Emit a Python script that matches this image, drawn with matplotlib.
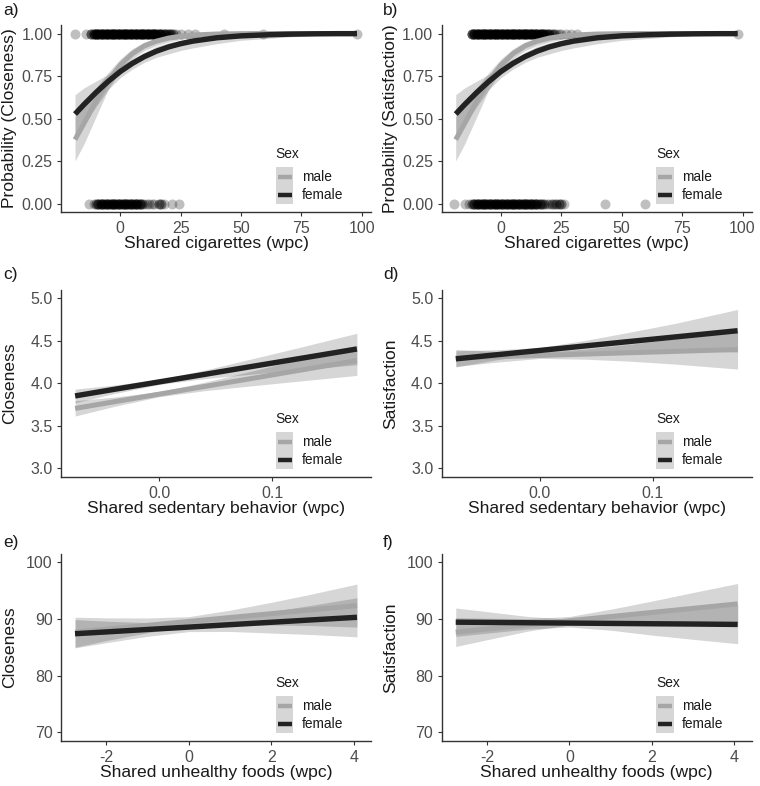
import numpy as np
import matplotlib
matplotlib.use("Agg")
import matplotlib.pyplot as plt
from matplotlib.patches import Rectangle

plt.rcParams['font.family'] = ['Liberation Sans', 'DejaVu Sans']
plt.rcParams['axes.unicode_minus'] = False

# ---- panel a/b: logistic fits (shared cigarettes) ----
cig_x = [-18.7, -15, -10, -5, 0, 5, 10, 15, 20, 25, 30, 40, 50, 60, 70, 80, 90, 98]
cig_f_fit = [0.526, 0.582, 0.653, 0.718, 0.776, 0.824, 0.864, 0.896, 0.921, 0.940,
             0.955, 0.975, 0.986, 0.992, 0.996, 0.998, 0.999, 0.999]
cig_f_lo = [0.40, 0.47, 0.57, 0.67, 0.74, 0.79, 0.83, 0.86, 0.88, 0.90,
            0.915, 0.94, 0.96, 0.97, 0.98, 0.987, 0.992, 0.995]
cig_f_hi = [0.64, 0.68, 0.72, 0.76, 0.81, 0.85, 0.89, 0.925, 0.945, 0.96,
            0.972, 0.987, 0.994, 0.997, 0.999, 1.0, 1.0, 1.0]
cig_m_fit = [0.376, 0.471, 0.602, 0.720, 0.814, 0.881, 0.927, 0.955, 0.973, 0.984,
             0.991, 0.997, 0.999, 1.0, 1.0, 1.0, 1.0, 1.0]
cig_m_lo = [0.25, 0.35, 0.51, 0.67, 0.78, 0.85, 0.90, 0.93, 0.95, 0.965,
            0.975, 0.99, 0.995, 0.998, 0.999, 1.0, 1.0, 1.0]
cig_m_hi = [0.51, 0.59, 0.68, 0.77, 0.85, 0.91, 0.95, 0.975, 0.987, 0.993,
            0.997, 0.999, 1.0, 1.0, 1.0, 1.0, 1.0, 1.0]

# observed outcomes (x value, number of dyad-days at that value)
a_one_x = [-18.7, -14, -12, -11, -10, -9, -8, -7, -6, -5, -4, -3, -2, -1, 0, 1, 2, 3, 4, 5,
           6, 7, 8, 9, 10, 11, 12, 13, 14, 15, 16, 17, 18, 19, 20, 21, 22, 23, 25, 28, 31, 43, 59, 98]
a_one_n = [1, 1, 3, 4, 5, 5, 5, 5, 5, 5, 5, 5, 5, 5, 5, 5, 5, 5, 5, 5,
           5, 5, 5, 5, 5, 5, 5, 5, 5, 4, 4, 4, 3, 3, 3, 2, 2, 1, 1, 1, 1, 1, 1, 1]
a_zero_x = [-12.9, -11, -10, -9, -8, -7, -6, -5, -4, -3, -2, -1, 0, 1, 2, 3, 4, 5, 6, 7, 8,
            9, 10, 11, 12, 13, 14, 16, 17, 18, 21.6, 24.5]
a_zero_n = [1, 1, 2, 4, 4, 4, 4, 4, 4, 4, 4, 4, 4, 4, 4, 4, 4, 4, 4, 4, 4,
            2, 1, 1, 1, 1, 1, 2, 2, 1, 1, 1]
b_one_x = [-12, -11, -10, -9, -8, -7, -6, -5, -4, -3, -2, -1, 0, 1, 2, 3, 4, 5, 6, 7, 8, 9,
           10, 11, 12, 13, 14, 15, 16, 17, 18, 19, 20, 21, 22, 23, 24, 25, 27, 29, 31.5, 98]
b_one_n = [4, 5, 5, 5, 5, 5, 5, 5, 5, 5, 5, 5, 5, 5, 5, 5, 5, 5, 5, 5, 5, 5,
           5, 5, 5, 5, 5, 4, 4, 4, 4, 3, 3, 2, 2, 1, 1, 1, 1, 1, 1, 1]
b_zero_x = [-19.4, -15, -13, -12, -11, -10, -9, -8, -7, -6, -5, -4, -3, -2, -1, 0, 1, 2, 3, 4,
            5, 6, 7, 8, 9, 10, 11, 12, 13, 14, 15, 16, 17, 18, 19, 20, 21, 22, 23, 24, 25, 26,
            43, 59.5]
b_zero_n = [1, 1, 1, 2, 4, 4, 4, 4, 4, 4, 4, 4, 4, 4, 4, 4, 4, 4, 4, 4,
            4, 4, 4, 4, 4, 4, 4, 4, 4, 4, 3, 3, 2, 2, 1, 1, 2, 1, 2, 2, 2, 1,
            1, 1]

# ---- panel c/d: sedentary behavior ----
sed_x = [-0.0745, -0.04, 0.0, 0.04, 0.08, 0.12, 0.175]
c_f_fit = [3.854, 3.931, 4.019, 4.107, 4.196, 4.284, 4.406]
c_f_lo = [3.774, 3.881, 3.989, 4.057, 4.108, 4.157, 4.221]
c_f_hi = [3.934, 3.981, 4.049, 4.157, 4.284, 4.411, 4.591]
c_m_fit = [3.707, 3.785, 3.875, 3.965, 4.055, 4.146, 4.270]
c_m_lo = [3.617, 3.730, 3.845, 3.915, 3.970, 4.023, 4.095]
c_m_hi = [3.797, 3.840, 3.905, 4.015, 4.140, 4.269, 4.445]
d_f_fit = [4.290, 4.336, 4.389, 4.442, 4.495, 4.548, 4.621]
d_f_lo = [4.195, 4.276, 4.354, 4.377, 4.385, 4.388, 4.371]
d_f_hi = [4.385, 4.396, 4.424, 4.507, 4.605, 4.708, 4.871]
d_m_fit = [4.300, 4.314, 4.330, 4.346, 4.362, 4.378, 4.400]
d_m_lo = [4.200, 4.249, 4.295, 4.286, 4.262, 4.228, 4.170]
d_m_hi = [4.400, 4.379, 4.365, 4.406, 4.462, 4.528, 4.630]

# ---- panel e/f: unhealthy foods ----
food_x = [-2.76, -2, -1, 0, 1, 2, 3, 4.08]
e_f_fit = [87.43, 87.75, 88.18, 88.60, 89.03, 89.45, 89.88, 90.33]
e_f_lo = [84.93, 85.85, 86.98, 87.80, 87.83, 87.55, 87.28, 86.88]
e_f_hi = [89.93, 89.65, 89.38, 89.40, 90.23, 91.35, 92.48, 93.78]
e_m_fit = [87.70, 88.23, 88.91, 89.60, 90.29, 90.97, 91.66, 92.40]
e_m_lo = [85.05, 86.23, 87.61, 88.75, 88.99, 88.97, 88.86, 88.60]
e_m_hi = [90.35, 90.23, 90.21, 90.45, 91.59, 92.97, 94.46, 96.20]
f_f_fit = [89.47, 89.43, 89.37, 89.31, 89.25, 89.19, 89.14, 89.07]
f_f_lo = [86.97, 87.53, 88.27, 88.61, 88.05, 87.19, 86.44, 85.67]
f_f_hi = [91.97, 91.33, 90.47, 90.01, 90.45, 91.19, 91.84, 92.47]
f_m_fit = [87.72, 88.27, 89.00, 89.73, 90.46, 91.19, 91.91, 92.70]
f_m_lo = [85.17, 86.37, 87.90, 88.98, 89.16, 89.19, 89.11, 89.10]
f_m_hi = [90.27, 90.17, 90.10, 90.48, 91.76, 93.19, 94.71, 96.30]

MALE = '#a6a6a6'
FEMALE = '#222222'
RIB = (0, 0, 0, 0.16)
TICKC = '#4d4d4d'

W, H = 760, 786
fig = plt.figure(figsize=(W / 100, H / 100), dpi=100)


def make_ax(left, top):
    # left/top of the panel in pixels
    return fig.add_axes([left / W, 1 - (top + 187) / H, 310 / W, 187 / H])


def style(ax, xlim, ylim, xt, yt, yfmt, xlab, ylab, xfmt=None):
    ax.set_xlim(*xlim)
    ax.set_ylim(*ylim)
    ax.set_xticks(xt)
    ax.set_yticks(yt)
    ax.set_yticklabels([yfmt.format(v) for v in yt])
    if xfmt:
        ax.set_xticklabels([xfmt.format(v) for v in xt])
    for s in ['top', 'right']:
        ax.spines[s].set_visible(False)
    for s in ['left', 'bottom']:
        ax.spines[s].set_color('#333333')
        ax.spines[s].set_linewidth(1.0)
    ax.tick_params(length=3, width=0.8, color='#333333', labelcolor=TICKC,
                   labelsize=11.5, pad=3)
    ax.tick_params(axis='x', pad=3.8)
    ax.set_xlabel(xlab, fontsize=12.6, color='#1a1a1a')
    ax.set_ylabel(ylab, fontsize=12.6, color='#1a1a1a')
    ax.xaxis.label.set_va('center')
    ax.yaxis.label.set_va('center')
    ax.xaxis.set_label_coords(0.5, -31 / 187)
    ax.yaxis.set_label_coords(-51 / 310, 0.5)
    # legend drawn in axes fraction, ggplot style
    ax.add_patch(Rectangle((0.692, 0.043), 0.057, 0.199, transform=ax.transAxes,
                           facecolor='#d6d6d6', edgecolor='none', zorder=5))
    ax.plot([0.699, 0.744], [0.189, 0.189], transform=ax.transAxes, color=MALE,
            lw=3.2, solid_capstyle='butt', zorder=6)
    ax.plot([0.699, 0.744], [0.091, 0.091], transform=ax.transAxes, color=FEMALE,
            lw=3.2, solid_capstyle='butt', zorder=6)
    ax.text(0.692, 0.31, 'Sex', transform=ax.transAxes, fontsize=9.9,
            color='#1a1a1a', va='center', ha='left')
    ax.text(0.776, 0.189, 'male', transform=ax.transAxes, fontsize=9.9,
            color='#1a1a1a', va='center', ha='left')
    ax.text(0.776, 0.091, 'female', transform=ax.transAxes, fontsize=9.9,
            color='#1a1a1a', va='center', ha='left')


def fits(ax, x, mlo, mhi, mfit, flo, fhi, ffit):
    ax.fill_between(x, mlo, mhi, color=RIB, lw=0, zorder=2)
    ax.fill_between(x, flo, fhi, color=RIB, lw=0, zorder=2)
    ax.plot(x, mfit, color=MALE, lw=3.6, solid_capstyle='butt', zorder=3)
    ax.plot(x, ffit, color=FEMALE, lw=3.9, solid_capstyle='butt', zorder=4)


def points(ax, xs, ns, yval):
    px = np.repeat(xs, ns)
    ax.scatter(px, np.full(len(px), yval), s=52, color='black', alpha=0.25,
               linewidths=0, zorder=1, clip_on=False)


cig_ylab = ['Probability (Closeness)', 'Probability (Satisfaction)']
lefts = [61, 441.7]

# row 1
for i, (one_x, one_n, zero_x, zero_n) in enumerate(
        [(a_one_x, a_one_n, a_zero_x, a_zero_n), (b_one_x, b_one_n, b_zero_x, b_zero_n)]):
    ax = make_ax(lefts[i], 25)
    points(ax, one_x, one_n, 1.0)
    points(ax, zero_x, zero_n, 0.0)
    fits(ax, cig_x, cig_m_lo, cig_m_hi, cig_m_fit, cig_f_lo, cig_f_hi, cig_f_fit)
    style(ax, (-24.5, 103.8), (-0.05, 1.05), [0, 25, 50, 75, 100],
          [0, 0.25, 0.5, 0.75, 1.0], '{:.2f}', 'Shared cigarettes (wpc)', cig_ylab[i])

# row 2
ax = make_ax(61, 290)
fits(ax, sed_x, c_m_lo, c_m_hi, c_m_fit, c_f_lo, c_f_hi, c_f_fit)
style(ax, (-0.087, 0.1875), (2.9, 5.1), [0.0, 0.1], [3.0, 3.5, 4.0, 4.5, 5.0], '{:.1f}',
      'Shared sedentary behavior (wpc)', 'Closeness', xfmt='{:.1f}')
ax = make_ax(441.7, 290)
fits(ax, sed_x, d_m_lo, d_m_hi, d_m_fit, d_f_lo, d_f_hi, d_f_fit)
style(ax, (-0.087, 0.1875), (2.9, 5.1), [0.0, 0.1], [3.0, 3.5, 4.0, 4.5, 5.0], '{:.1f}',
      'Shared sedentary behavior (wpc)', 'Satisfaction', xfmt='{:.1f}')

# row 3
ax = make_ax(61, 554)
fits(ax, food_x, e_m_lo, e_m_hi, e_m_fit, e_f_lo, e_f_hi, e_f_fit)
style(ax, (-3.10, 4.42), (68.5, 101.5), [-2, 0, 2, 4], [70, 80, 90, 100], '{:d}',
      'Shared unhealthy foods (wpc)', 'Closeness')
ax = make_ax(441.7, 554)
fits(ax, food_x, f_m_lo, f_m_hi, f_m_fit, f_f_lo, f_f_hi, f_f_fit)
style(ax, (-3.10, 4.42), (68.5, 101.5), [-2, 0, 2, 4], [70, 80, 90, 100], '{:d}',
      'Shared unhealthy foods (wpc)', 'Satisfaction')

# panel letters
for lab, px, py in [('a)', 3, 11), ('b)', 383, 11), ('c)', 3, 274),
                    ('d)', 383, 274), ('e)', 3, 542), ('f)', 383, 542)]:
    fig.text(px / W, 1 - py / H, lab, fontsize=12.5, color='#1a1a1a',
             ha='left', va='center')

fig.savefig('out.png', dpi=100)
